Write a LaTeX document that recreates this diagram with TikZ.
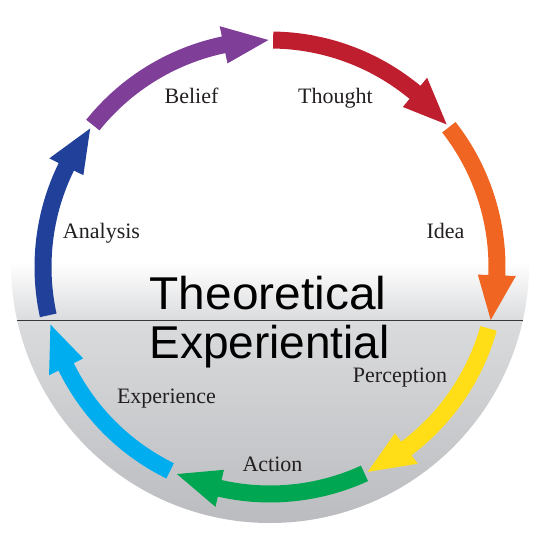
\documentclass[tikz,border=0pt]{standalone}
\usepackage{fontspec}
\setmainfont{Liberation Serif}
\setsansfont{Liberation Sans}
\usepackage{xcolor}
\usepackage{tikz}
\definecolor{thoughtRed}{RGB}{190,30,45}
\definecolor{ideaOrange}{RGB}{241,101,34}
\definecolor{perceptYellow}{RGB}{255,222,23}
\definecolor{actionGreen}{RGB}{0,166,81}
\definecolor{experCyan}{RGB}{0,174,239}
\definecolor{analysisBlue}{RGB}{33,64,154}
\definecolor{beliefPurple}{RGB}{127,63,152}
\definecolor{ink}{RGB}{35,31,32}
\definecolor{shadeLight}{RGB}{218,219,221}
\definecolor{shadeDark}{RGB}{186,187,190}
\definecolor{ruleLine}{RGB}{55,55,58}
\tikzset{
  stageLabel/.style={
    font=\fontsize{22}{22}\selectfont,
    text=ink,
    anchor=base,
    inner sep=0pt
  },
  realmLabel/.style={
    font=\sffamily\fontsize{46}{46}\selectfont,
    text=black,
    anchor=base,
    inner sep=0pt
  },
  divider/.style={draw=ruleLine, line width=1},
  ringArrow/.style={fill=#1, draw=none}
}

\begin{document}
\begin{tikzpicture}[x=1pt, y=1pt]
  \useasboundingbox (-270,-273) rectangle (270,267);

  \begin{scope}
    \clip (0,3) circle[radius=259];
    \shade[top color=white, bottom color=shadeLight] (-270,5) rectangle (270,-54.5);
    \shade[top color=shadeLight, bottom color=shadeDark] (-270,-54) rectangle (270,-262);
  \end{scope}
  \draw[divider] (-253,-54) -- (253,-54);

  \node[realmLabel, xscale=1.04] (theo) at (-2,-43) {Theoretical};
  \node[realmLabel] (exper) at (-0.5,-92) {Experiential};

  \node[stageLabel] (thought) at (65.5,163) {Thought};
  \node[stageLabel] (belief) at (-78.5,163) {Belief};
  \node[stageLabel] (analysis) at (-168.5,28) {Analysis};
  \node[stageLabel] (idea) at (175.5,28) {Idea};
  \node[stageLabel] (perception) at (130,-116) {Perception};
  \node[stageLabel] (experience) at (-103.5,-136) {Experience};
  \node[stageLabel] (action) at (2.5,-204) {Action};

  \foreach \tail/\tip/\col in {89.2/38.9/thoughtRed, 38.0/-13.5/ideaOrange,
      -15.7/-64.5/perceptYellow, -65.4/-114.2/actionGreen, -116.1/-165.3/experCyan,
      -167.7/-217.6/analysisBlue, -218.7/-269.6/beliefPurple}{
    \pgfmathsetmacro{\hb}{\tip+11.4}
    \path[ringArrow=\col] (\tail:235.5) arc[start angle=\tail, end angle=\hb, radius=235.5]
      -- (\hb:246) -- (\tip:227) -- (\hb:208) -- (\hb:218.5)
      arc[start angle=\hb, end angle=\tail, radius=218.5] -- cycle;
  }
\end{tikzpicture}
\end{document}
